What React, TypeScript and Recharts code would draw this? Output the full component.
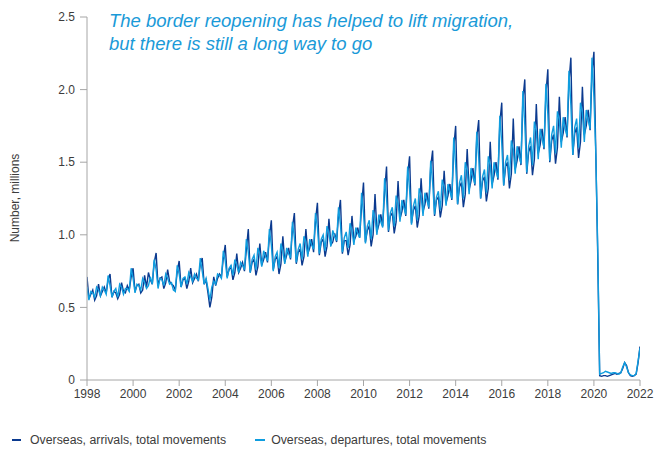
import React from 'react';
import { LineChart, Line, XAxis, YAxis } from 'recharts';

const startYear = 1998;

const xTicks = [1998, 2000, 2002, 2004, 2006, 2008, 2010, 2012, 2014, 2016, 2018, 2020, 2022];
const yTicks = [0, 0.5, 1.0, 1.5, 2.0, 2.5];

const seriesNames = ['Overseas, arrivals, total movements', 'Overseas, departures, total movements'];

// Monthly values, millions, Jan 1998 .. Jan 2022
const arrivals = [
  0.71, 0.56, 0.59, 0.62, 0.55, 0.58, 0.66, 0.58, 0.61, 0.64, 0.60, 0.69,
  0.73, 0.57, 0.61, 0.60, 0.56, 0.59, 0.67, 0.61, 0.60, 0.65, 0.62, 0.71,
  0.77, 0.61, 0.65, 0.66, 0.60, 0.62, 0.72, 0.64, 0.74, 0.69, 0.66, 0.81,
  0.875, 0.65, 0.70, 0.71, 0.63, 0.67, 0.76, 0.68, 0.66, 0.65, 0.62, 0.75,
  0.82, 0.64, 0.69, 0.70, 0.63, 0.68, 0.77, 0.67, 0.70, 0.73, 0.68, 0.80,
  0.84, 0.66, 0.69, 0.60, 0.50, 0.57, 0.71, 0.65, 0.70, 0.73, 0.71, 0.84,
  0.93, 0.71, 0.76, 0.78, 0.69, 0.74, 0.87, 0.74, 0.77, 0.81, 0.75, 0.90,
  1.04, 0.74, 0.81, 0.83, 0.72, 0.78, 0.94, 0.79, 0.83, 0.88, 0.81, 0.99,
  1.10, 0.76, 0.83, 0.85, 0.73, 0.80, 0.99, 0.81, 0.86, 0.91, 0.83, 1.05,
  1.15, 0.80, 0.88, 0.90, 0.79, 0.85, 1.04, 0.87, 0.91, 0.97, 0.88, 1.10,
  1.22, 0.86, 0.95, 0.97, 0.85, 0.92, 1.11, 0.93, 0.95, 1.01, 0.95, 1.14,
  1.24, 0.87, 0.96, 0.96, 0.86, 0.93, 1.13, 0.96, 0.99, 1.05, 0.98, 1.20,
  1.36, 0.95, 1.03, 1.06, 0.92, 1.00, 1.28, 1.02, 1.07, 1.14, 1.06, 1.30,
  1.47, 1.02, 1.13, 1.15, 1.01, 1.09, 1.37, 1.11, 1.16, 1.24, 1.13, 1.41,
  1.54, 1.08, 1.17, 1.20, 1.05, 1.13, 1.39, 1.16, 1.21, 1.29, 1.18, 1.47,
  1.58, 1.13, 1.24, 1.26, 1.12, 1.20, 1.44, 1.22, 1.27, 1.35, 1.24, 1.60,
  1.75, 1.21, 1.33, 1.36, 1.19, 1.28, 1.59, 1.31, 1.37, 1.46, 1.34, 1.67,
  1.79, 1.25, 1.37, 1.40, 1.23, 1.32, 1.64, 1.35, 1.41, 1.50, 1.38, 1.77,
  1.91, 1.34, 1.47, 1.50, 1.32, 1.42, 1.80, 1.45, 1.51, 1.61, 1.48, 1.93,
  2.07, 1.42, 1.57, 1.61, 1.41, 1.52, 1.90, 1.56, 1.62, 1.73, 1.59, 1.97,
  2.14, 1.50, 1.65, 1.69, 1.49, 1.60, 1.95, 1.64, 1.70, 1.81, 1.67, 2.05,
  2.22, 1.55, 1.70, 1.74, 1.53, 1.64, 2.02, 1.69, 1.75, 1.86, 1.72, 2.12,
  2.26, 1.55, 0.85, 0.03, 0.025, 0.03, 0.03, 0.025, 0.03, 0.035, 0.04, 0.045,
  0.04, 0.045, 0.05, 0.08, 0.12, 0.10, 0.05, 0.03, 0.025, 0.03, 0.04, 0.12,
  0.23,
];

const departures = [
  0.64, 0.55, 0.61, 0.60, 0.57, 0.64, 0.62, 0.58, 0.64, 0.62, 0.59, 0.72,
  0.65, 0.57, 0.61, 0.63, 0.57, 0.66, 0.64, 0.59, 0.63, 0.63, 0.61, 0.77,
  0.70, 0.60, 0.66, 0.65, 0.62, 0.70, 0.67, 0.63, 0.65, 0.71, 0.66, 0.83,
  0.76, 0.63, 0.70, 0.69, 0.65, 0.73, 0.70, 0.66, 0.67, 0.62, 0.61, 0.79,
  0.73, 0.64, 0.70, 0.71, 0.66, 0.74, 0.71, 0.68, 0.73, 0.70, 0.69, 0.84,
  0.75, 0.66, 0.70, 0.63, 0.55, 0.64, 0.68, 0.66, 0.73, 0.72, 0.70, 0.89,
  0.82, 0.70, 0.77, 0.79, 0.72, 0.83, 0.79, 0.74, 0.81, 0.79, 0.76, 0.97,
  0.88, 0.74, 0.83, 0.86, 0.76, 0.91, 0.87, 0.78, 0.89, 0.85, 0.82, 1.04,
  0.93, 0.75, 0.85, 0.88, 0.77, 0.94, 0.89, 0.80, 0.91, 0.87, 0.84, 1.09,
  0.98, 0.81, 0.90, 0.94, 0.83, 0.99, 0.95, 0.85, 0.97, 0.93, 0.90, 1.15,
  1.05, 0.87, 0.97, 1.00, 0.89, 1.06, 1.01, 0.92, 1.03, 0.99, 0.96, 1.19,
  1.07, 0.88, 0.98, 1.02, 0.91, 1.08, 1.03, 0.93, 1.05, 1.01, 0.98, 1.29,
  1.15, 0.94, 1.06, 1.10, 0.97, 1.17, 1.12, 1.00, 1.14, 1.09, 1.05, 1.39,
  1.25, 1.03, 1.15, 1.19, 1.06, 1.27, 1.22, 1.09, 1.24, 1.19, 1.14, 1.47,
  1.31, 1.07, 1.20, 1.25, 1.10, 1.32, 1.27, 1.13, 1.29, 1.24, 1.19, 1.51,
  1.36, 1.14, 1.26, 1.30, 1.17, 1.38, 1.33, 1.20, 1.35, 1.30, 1.25, 1.67,
  1.48, 1.21, 1.36, 1.41, 1.25, 1.50, 1.44, 1.28, 1.46, 1.40, 1.35, 1.71,
  1.53, 1.25, 1.40, 1.45, 1.29, 1.54, 1.48, 1.32, 1.50, 1.44, 1.39, 1.82,
  1.63, 1.34, 1.50, 1.55, 1.38, 1.65, 1.59, 1.42, 1.61, 1.54, 1.49, 1.99,
  1.76, 1.43, 1.61, 1.67, 1.48, 1.78, 1.71, 1.52, 1.73, 1.66, 1.60, 2.04,
  1.83, 1.51, 1.69, 1.75, 1.56, 1.85, 1.79, 1.60, 1.81, 1.73, 1.68, 2.13,
  1.89, 1.55, 1.74, 1.80, 1.60, 1.91, 1.84, 1.64, 1.86, 1.79, 1.73, 2.22,
  1.95, 1.55, 0.90, 0.04, 0.045, 0.05, 0.06, 0.055, 0.05, 0.045, 0.05, 0.05,
  0.045, 0.04, 0.05, 0.09, 0.12, 0.09, 0.05, 0.035, 0.03, 0.03, 0.045, 0.13,
  0.22,
];

const data = arrivals.map((a, i) => ({
  t: startYear + i / 12,
  arrivals: a,
  departures: departures[i],
}));

const DARK = '#0b3a8f';
const LIGHT = '#0f9ddf';
const AXIS = '#a6a6a6';
const TEXT = '#3c3c3c';
const FONT = '"Liberation Sans", Arial, sans-serif';

export default function App() {
  return (
    <div style={{ position: 'absolute', left: 0, top: 0, width: 667, height: 450, background: '#fff', fontFamily: FONT }}>
      <LineChart width={667} height={450} data={data} margin={{ top: 17, right: 27, left: 47, bottom: 40 }}>
        <XAxis
          dataKey="t"
          type="number"
          domain={[1998, 2022]}
          ticks={xTicks}
          interval={0}
          height={30}
          stroke={AXIS}
          tickSize={6}
          tickMargin={3}
          tick={{ fill: TEXT, fontSize: 12, fontFamily: FONT }}
          allowDataOverflow
        />
        <YAxis
          type="number"
          domain={[0, 2.5]}
          ticks={yTicks}
          interval={0}
          width={40}
          stroke={AXIS}
          tickSize={7}
          tickMargin={5}
          tickFormatter={(v: number) => (v === 0 ? '0' : v.toFixed(1))}
          tick={{ fill: TEXT, fontSize: 12, fontFamily: FONT }}
        />
        <Line type="linear" dataKey="arrivals" name={seriesNames[0]} stroke={DARK} strokeWidth={1.4} dot={false} isAnimationActive={false} />
        <Line type="linear" dataKey="departures" name={seriesNames[1]} stroke={LIGHT} strokeWidth={1.4} dot={false} isAnimationActive={false} />
      </LineChart>

      <div style={{ position: 'absolute', left: 109, top: 9, color: '#1a9ad8', fontStyle: 'italic', fontWeight: 300, fontSize: 18.5, lineHeight: '23px', fontFamily: FONT }}>
        <div>The border reopening has helped to lift migration,</div>
        <div>but there is still a long way to go</div>
      </div>

      <div style={{ position: 'absolute', left: 15, top: 198, width: 0, height: 0 }}>
        <div style={{ position: 'absolute', transform: 'translate(-50%, -50%) rotate(-90deg)', whiteSpace: 'nowrap', fontSize: 12, color: TEXT, fontFamily: FONT }}>
          Number, millions
        </div>
      </div>

      <div style={{ position: 'absolute', left: 12, top: 433, display: 'flex', alignItems: 'center', fontSize: 12.3, color: TEXT, whiteSpace: 'nowrap', fontFamily: FONT }}>
        <span style={{ display: 'inline-block', width: 9, height: 0, borderTop: `2px solid ${DARK}`, marginRight: 9 }} />
        <span>{seriesNames[0]}</span>
        <span style={{ display: 'inline-block', width: 10, height: 0, borderTop: `2px solid ${LIGHT}`, marginLeft: 29, marginRight: 6 }} />
        <span>{seriesNames[1]}</span>
      </div>
    </div>
  );
}
